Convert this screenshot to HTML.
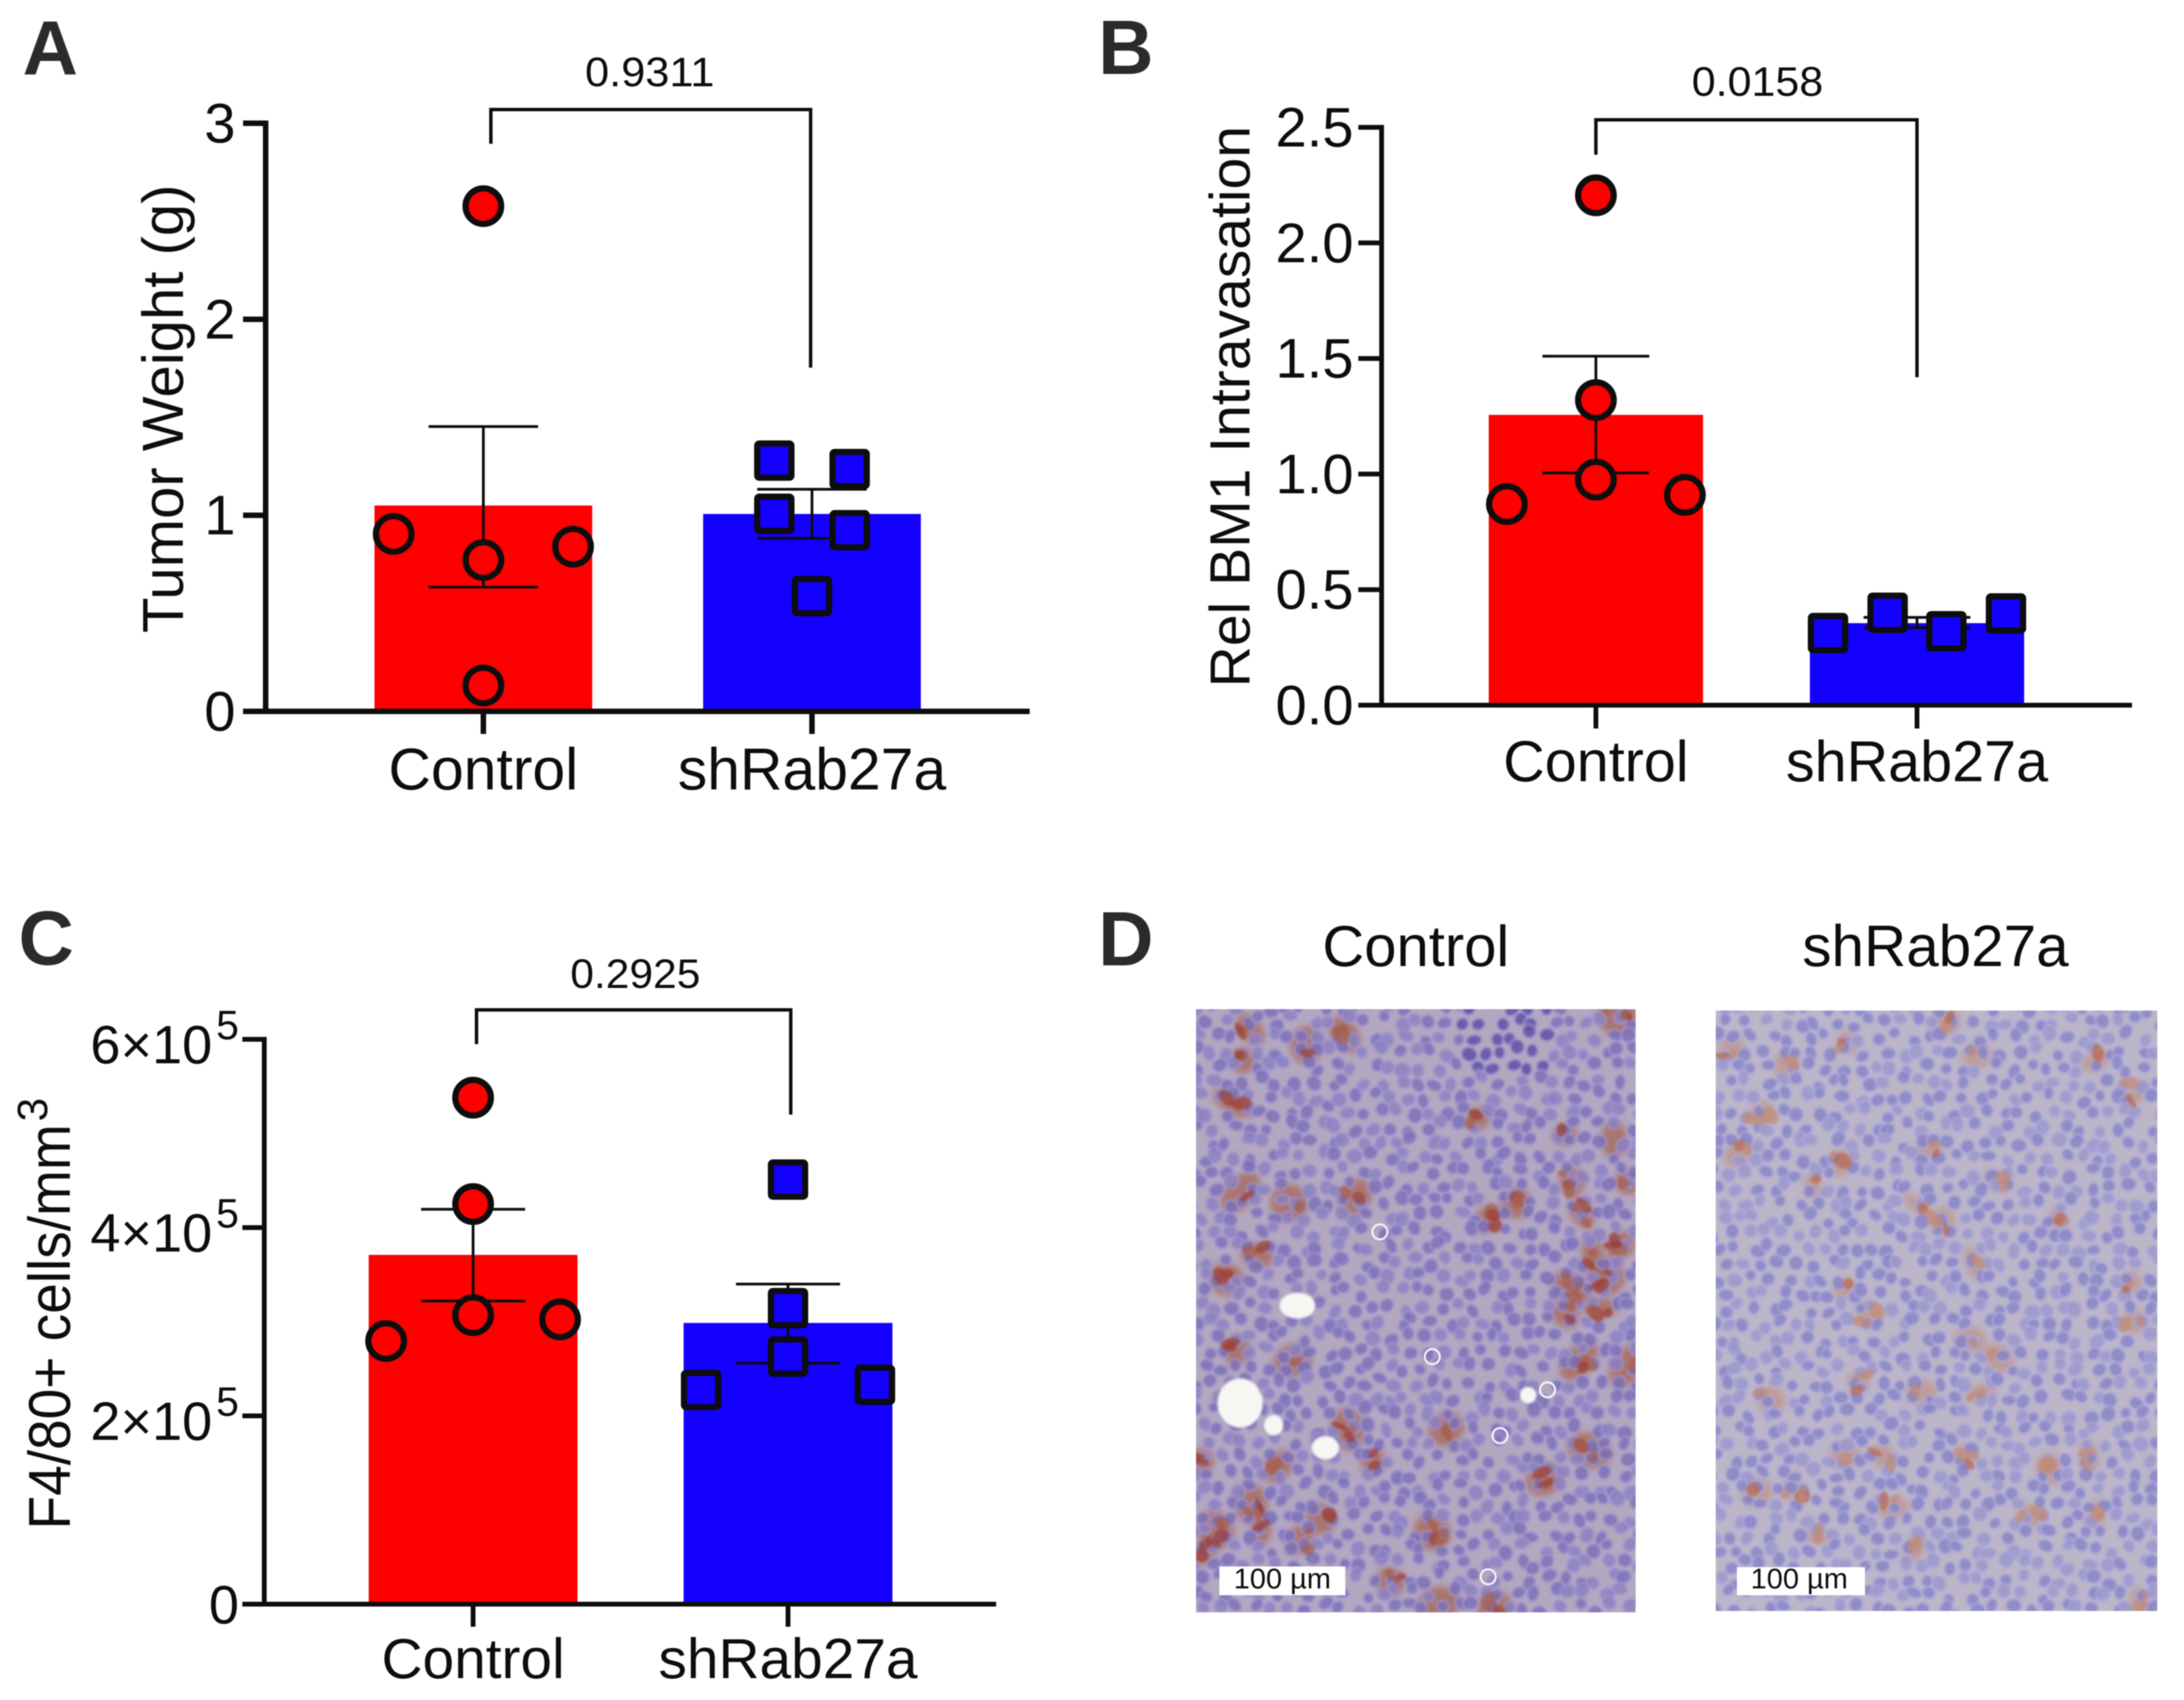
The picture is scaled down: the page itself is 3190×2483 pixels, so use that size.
<!DOCTYPE html>
<html lang="en">
<head>
<meta charset="utf-8">
<title>Tumor weight, BM1 intravasation and F4/80+ cells</title>
<style>
html,body{margin:0;padding:0;background:#fff;}
svg{display:block;filter:blur(0.8px);}
text{font-family:"Liberation Sans",sans-serif;fill:#0d0d0d;}
.letter{font-weight:bold;font-size:112px;fill:#2b2b2b;}
</style>
</head>
<body>
<svg id="figure" xmlns="http://www.w3.org/2000/svg" width="3190" height="2483" viewBox="0 0 3190 2483">
  <defs>
    <clipPath id="clip-left"><rect x="1747" y="1474" width="642" height="881"/></clipPath>
    <clipPath id="clip-right"><rect x="2506" y="1476" width="645" height="877"/></clipPath>
    <filter id="soft" x="-5%" y="-5%" width="110%" height="110%"><feGaussianBlur stdDeviation="1.6"/></filter>
    <filter id="stain-blur" x="-5%" y="-5%" width="110%" height="110%"><feGaussianBlur stdDeviation="5"/></filter>
  </defs>
  <rect width="3190" height="2483" fill="#ffffff"/>

  <text class="letter" x="33" y="109">A</text>
  <text class="letter" x="1604" y="108">B</text>
  <text class="letter" x="27" y="1409">C</text>
  <text class="letter" x="1604" y="1410">D</text>

  <g id="panel-a">
    <text transform="translate(267,597) rotate(-90)" text-anchor="middle" font-size="84" textLength="655" lengthAdjust="spacingAndGlyphs">Tumor Weight (g)</text>
    <text x="949" y="126" text-anchor="middle" font-size="60" textLength="189" lengthAdjust="spacingAndGlyphs">0.9311</text>
    <path d="M717 210V160H1184V537" fill="none" stroke="#0d0d0d" stroke-width="5"/>
  </g>
  <g id="panel-b">
    <text transform="translate(1825,594) rotate(-90)" text-anchor="middle" font-size="83" textLength="820" lengthAdjust="spacingAndGlyphs">Rel BM1 Intravasation</text>
    <text x="2567" y="140" text-anchor="middle" font-size="60" textLength="192" lengthAdjust="spacingAndGlyphs">0.0158</text>
    <path d="M2331 226V175H2800V551" fill="none" stroke="#0d0d0d" stroke-width="5"/>
  </g>
  <g id="panel-c">
    <text transform="translate(102,1938) rotate(-90)" text-anchor="middle" font-size="86" textLength="592" lengthAdjust="spacingAndGlyphs">F4/80+ cells/mm</text>
    <text transform="translate(69,1638) rotate(-90)" font-size="62">3</text>
    <text x="928" y="1443" text-anchor="middle" font-size="60" textLength="190" lengthAdjust="spacingAndGlyphs">0.2925</text>
    <path d="M696 1525V1475H1155V1628" fill="none" stroke="#0d0d0d" stroke-width="5"/>
  </g>

  <g id="panel-d">
    <text x="2068" y="1411" text-anchor="middle" font-size="84" textLength="273" lengthAdjust="spacingAndGlyphs">Control</text>
    <text x="2827" y="1411" text-anchor="middle" font-size="85" textLength="389" lengthAdjust="spacingAndGlyphs">shRab27a</text>
    <g id="tissue-left" clip-path="url(#clip-left)"></g>
    <g id="tissue-right" clip-path="url(#clip-right)"></g>
    <rect x="1781" y="2288" width="184" height="42" fill="#fff"/>
    <text x="1873" y="2320" text-anchor="middle" font-size="42" textLength="142" lengthAdjust="spacingAndGlyphs">100 µm</text>
    <rect x="2537" y="2289" width="187" height="41" fill="#fff"/>
    <text x="2628" y="2320" text-anchor="middle" font-size="42" textLength="142" lengthAdjust="spacingAndGlyphs">100 µm</text>
  </g>
</svg>

<script>
// ---- chart data ----
const categories = ['Control', 'shRab27a'];

const panelATicks = [0, 1, 2, 3];
const panelATickLabels = ['0', '1', '2', '3'];
const panelAMeans = [1.05, 1.007];
const panelAErrorLow = [0.634, 0.883];
const panelAErrorHigh = [1.453, 1.133];
const panelAControl = [2.577, 0.905, 0.772, 0.84, 0.132];
const panelAControlSlots = [0, -1, 0, 1, 0];
const panelAKnockdown = [1.279, 1.236, 1.008, 0.924, 0.588];
const panelAKnockdownSlots = [-0.42, 0.42, -0.42, 0.42, 0];

const panelBTicks = [0, 0.5, 1, 1.5, 2, 2.5];
const panelBTickLabels = ['0.0', '0.5', '1.0', '1.5', '2.0', '2.5'];
const panelBMeans = [1.256, 0.355];
const panelBErrorLow = [1.005, 0.335];
const panelBErrorHigh = [1.51, 0.38];
const panelBControl = [2.206, 1.32, 0.976, 0.87, 0.91];
const panelBControlSlots = [0, 0, 0, -1, 1];
const panelBKnockdown = [0.312, 0.4, 0.32, 0.397];
const panelBKnockdownSlots = [-1, -0.33, 0.33, 1];

const panelCTicks = [0, 200000, 400000, 600000];
const panelCTickLabels = ['0', '2×10', '4×10', '6×10'];
const panelCTickExponents = ['', '5', '5', '5'];
const panelCMeans = [371000, 298700];
const panelCErrorLow = [322000, 256000];
const panelCErrorHigh = [419500, 340000];
const panelCControl = [538000, 425000, 307000, 279500, 302500];
const panelCControlSlots = [0, 0, 0, -1, 1];
const panelCKnockdown = [451000, 314500, 263000, 227500, 233000];
const panelCKnockdownSlots = [0, 0, 0, -1, 1];

// ---- drawing ----
const NS = 'http://www.w3.org/2000/svg';
const RED = '#fe0000';
const BLUE = '#1400ff';
const INK = '#0d0d0d';

function make(tag, attrs, parent) {
  const node = document.createElementNS(NS, tag);
  for (const key in attrs) node.setAttribute(key, attrs[key]);
  parent.appendChild(node);
  return node;
}

function drawPanel(id, layout, series) {
  const root = document.getElementById(id);
  const maxTick = series.ticks[series.ticks.length - 1];
  const yScale = v => layout.y0 - (v / maxTick) * (layout.y0 - layout.yTop);
  const xScale = i => layout.xFirst + i * layout.xGap;

  series.means.forEach((mean, i) => {
    const bar = make('rect', {
      x: xScale(i) - layout.barWidth / 2,
      y: yScale(mean),
      width: layout.barWidth,
      height: layout.y0 - yScale(mean),
      fill: i === 0 ? RED : BLUE
    }, root);
    
    
  });

  series.errorHigh.forEach((high, i) => {
    const low = series.errorLow[i];
    const cx = xScale(i);
    const w = layout.capHalf;
    const error = make('path', {
      d: `M${cx} ${yScale(high)}V${yScale(low)}M${cx - w} ${yScale(high)}H${cx + w}M${cx - w} ${yScale(low)}H${cx + w}`,
      fill: 'none',
      stroke: INK,
      'stroke-width': 4
    }, root);
    
    
  });

  const yAxis = make('line', {
    x1: layout.x0, x2: layout.x0,
    y1: layout.yTop - layout.axisWidth / 2, y2: layout.y0,
    stroke: INK, 'stroke-width': layout.axisWidth
  }, root);
  
  

  const xAxis = make('line', {
    x1: layout.tickLeft, x2: layout.xEnd,
    y1: layout.y0, y2: layout.y0,
    stroke: INK, 'stroke-width': layout.axisWidth
  }, root);
  
  

  series.ticks.forEach((value, i) => {
    const y = yScale(value);
    const tick = make('line', {
      x1: layout.tickLeft, x2: layout.x0, y1: y, y2: y,
      stroke: INK, 'stroke-width': layout.axisWidth
    }, root);
    
    

    const exponent = series.tickExponents ? series.tickExponents[i] : '';
    const labelRight = exponent ? layout.labelRight - 39 : layout.labelRight;
    const label = make('text', {
      x: labelRight,
      y: y + (exponent ? 35 : 28),
      'text-anchor': 'end',
      'font-size': layout.tickFont
    }, root);
    label.textContent = series.tickLabels[i];
    
    

    if (exponent) {
      const sup = make('text', {
        x: layout.labelRight,
        y: y,
        'text-anchor': 'end',
        'font-size': 60
      }, root);
      sup.textContent = exponent;
      
      
    }
  });

  categories.forEach((name, i) => {
    const tick = make('line', {
      x1: xScale(i), x2: xScale(i), y1: layout.y0, y2: layout.xTickEnd,
      stroke: INK, 'stroke-width': layout.axisWidth
    }, root);
    
    

    const label = make('text', {
      x: xScale(i),
      y: layout.catBaseline,
      'text-anchor': 'middle',
      'font-size': layout.catFont
    }, root);
    label.textContent = name;
    
    
  });

  series.control.forEach((value, i) => {
    const point = make('circle', {
      cx: xScale(0) + series.controlSlots[i] * layout.slotStep,
      cy: yScale(value),
      r: 26,
      fill: RED,
      stroke: INK,
      'stroke-width': 9
    }, root);
    
    
  });

  series.knockdown.forEach((value, i) => {
    const point = make('rect', {
      x: xScale(1) + series.knockdownSlots[i] * layout.slotStep - 25,
      y: yScale(value) - 25,
      width: 50,
      height: 50,
      rx: 3,
      fill: BLUE,
      stroke: INK,
      'stroke-width': 9
    }, root);
    
    
  });
}

drawPanel('panel-a',
  { x0: 388, y0: 1039, yTop: 180, xEnd: 1504, tickLeft: 355, xFirst: 706, xGap: 480, barWidth: 318,
    capHalf: 80, axisWidth: 8, xTickEnd: 1072, labelRight: 344, tickFont: 82, catBaseline: 1153, catFont: 86, slotStep: 131 },
  { ticks: panelATicks, tickLabels: panelATickLabels, means: panelAMeans, errorLow: panelAErrorLow, errorHigh: panelAErrorHigh,
    control: panelAControl, controlSlots: panelAControlSlots, knockdown: panelAKnockdown, knockdownSlots: panelAKnockdownSlots });

drawPanel('panel-b',
  { x0: 2018, y0: 1030, yTop: 186, xEnd: 3114, tickLeft: 1984, xFirst: 2331, xGap: 469, barWidth: 313,
    capHalf: 78, axisWidth: 7, xTickEnd: 1064, labelRight: 1977, tickFont: 82, catBaseline: 1141, catFont: 84, slotStep: 130 },
  { ticks: panelBTicks, tickLabels: panelBTickLabels, means: panelBMeans, errorLow: panelBErrorLow, errorHigh: panelBErrorHigh,
    control: panelBControl, controlSlots: panelBControlSlots, knockdown: panelBKnockdown, knockdownSlots: panelBKnockdownSlots });

drawPanel('panel-c',
  { x0: 386, y0: 2343, yTop: 1518, xEnd: 1455, tickLeft: 354, xFirst: 691, xGap: 460, barWidth: 305,
    capHalf: 76, axisWidth: 7, xTickEnd: 2376, labelRight: 349, tickFont: 79, catBaseline: 2451, catFont: 83, slotStep: 127 },
  { ticks: panelCTicks, tickLabels: panelCTickLabels, tickExponents: panelCTickExponents, means: panelCMeans, errorLow: panelCErrorLow, errorHigh: panelCErrorHigh,
    control: panelCControl, controlSlots: panelCControlSlots, knockdown: panelCKnockdown, knockdownSlots: panelCKnockdownSlots });

// ---- histology micrographs (decorative tissue texture, not chart data) ----
const toX = zx => zx / 0.98 + 1592;
const toY = zy => zy / 1.3 + 1280;

let seed = 20231;
function rnd() {
  seed = (seed * 1664525 + 1013904223) % 4294967296;
  return seed / 4294967296;
}

function drawTissue(id, box, tone, stains, holes, rings) {
  const group = document.getElementById(id);
  make('rect', { x: box.x, y: box.y, width: box.w, height: box.h, fill: tone.base }, group);

  const stainLayer = make('g', { filter: 'url(#stain-blur)' }, group);
  stains.forEach(s => {
    const x = toX(s[0]);
    const y = toY(s[1]);
    make('ellipse', {
      cx: x, cy: y,
      rx: tone.stainR * (0.7 + rnd() * 0.8),
      ry: tone.stainR * (0.6 + rnd() * 0.6),
      transform: `rotate(${rnd() * 180} ${x} ${y})`,
      fill: tone.stain,
      opacity: tone.stainOpacity
    }, stainLayer);
  });

  const cellLayer = make('g', { filter: 'url(#soft)' }, group);
  const step = 25;
  let row = 0;
  for (let gy = box.y - 5; gy < box.y + box.h + 10; gy += step - 3) {
    row += 1;
    for (let gx = box.x - 5 + (row % 2) * 12; gx < box.x + box.w + 10; gx += step) {
      const cx = gx + (rnd() - 0.5) * 18;
      const cy = gy + (rnd() - 0.5) * 16;
      const dense = tone.denseAt && Math.hypot(cx - toX(tone.denseAt[0]), cy - toY(tone.denseAt[1])) < 70;
      make('ellipse', {
        cx: cx, cy: cy,
        rx: 8 + rnd() * 4,
        ry: 7.5 + rnd() * 3.5,
        transform: `rotate(${rnd() * 180} ${cx} ${cy})`,
        fill: dense ? '#5c4ea6' : (rnd() < 0.4 ? tone.nucleusAlt : tone.nucleus),
        stroke: tone.halo,
        'stroke-width': 2.5,
        opacity: 0.82
      }, cellLayer);
    }
  }

  const topStains = make('g', { filter: 'url(#soft)' }, group);
  stains.forEach(s => {
    for (let k = 0; k < 3; k += 1) {
      if (rnd() < 0.3) continue;
      const x = toX(s[0]) + (rnd() - 0.5) * 32;
      const y = toY(s[1]) + (rnd() - 0.5) * 28;
      make('ellipse', {
        cx: x, cy: y,
        rx: 6 + rnd() * 9,
        ry: 4 + rnd() * 7,
        transform: `rotate(${rnd() * 180} ${x} ${y})`,
        fill: rnd() < tone.darkShare ? tone.stainDark : tone.stain,
        opacity: 0.72
      }, topStains);
    }
  });

  holes.forEach(h => {
    make('ellipse', { cx: toX(h[0]), cy: toY(h[1]), rx: h[2], ry: h[3], fill: '#f6f6f3', filter: 'url(#soft)' }, group);
  });
  rings.forEach(r => {
    make('circle', { cx: toX(r[0]), cy: toY(r[1]), r: 11, fill: 'none', stroke: '#f4f4f6', 'stroke-width': 3 }, group);
  });
}

const leftStains = [[220,350],[310,320],[365,300],[205,430],[230,290],[555,460],[680,490],[750,500],[690,580],[610,620],[770,580],
  [570,650],[720,720],[690,780],[740,760],[680,830],[730,820],[760,700],[705,640],[230,1190],[180,1240],[300,1260],[160,1110],[270,1120],
  [330,1220],[240,720],[195,765],[290,920],[210,900],[405,1110],[490,1245],[650,1145],[715,1090],[430,1340],[500,1380],[580,1390],
  [285,620],[215,600],[380,610],[245,1240],[165,1280],[370,1050],[510,1050],[700,920],[770,930],[755,265]];
const leftHoles = [[297,815,26,19],[215,1000,33,36],[263,1042,14,15],[337,1085,20,17],[627,985,12,12]];
const leftRings = [[415,675],[655,975],[587,1062],[490,912],[570,1330]];

const rightStains = [[1270,340],[995,360],[1075,545],[1035,590],[1185,625],[1220,655],[1385,655],[1265,735],[1080,785],[1115,830],
  [1495,845],[1100,960],[1190,980],[1275,980],[975,995],[1080,1100],[1135,1100],[1250,1100],[1430,1100],[955,1170],[1005,1160],
  [1150,1200],[1345,1215],[1040,1250],[1180,1275],[1505,1380],[1490,770],[1225,275],[1085,315],[920,325],[1440,350],[1500,410],
  [960,450],[930,525],[1200,520],[1300,580],[1260,880],[1300,915],[1440,1210],[1375,1125]];

drawTissue('tissue-left', { x: 1747, y: 1474, w: 642, h: 881 },
  { base: '#b4a8c0', nucleus: '#7a70b8', nucleusAlt: '#8a80c0', halo: '#a197d0', stain: '#a5604f', stainDark: '#9c3f30', darkShare: 0.5, stainR: 24, stainOpacity: 0.7, denseAt: [600, 300] },
  leftStains, leftHoles, leftRings);

drawTissue('tissue-right', { x: 2506, y: 1476, w: 645, h: 877 },
  { base: '#bdb6c8', nucleus: '#8784c6', nucleusAlt: '#9a96cc', halo: '#aeaadc', stain: '#c08a78', stainDark: '#b86a50', darkShare: 0.3, stainR: 18, stainOpacity: 0.6 },
  rightStains, [], []);
</script>
</body>
</html>
